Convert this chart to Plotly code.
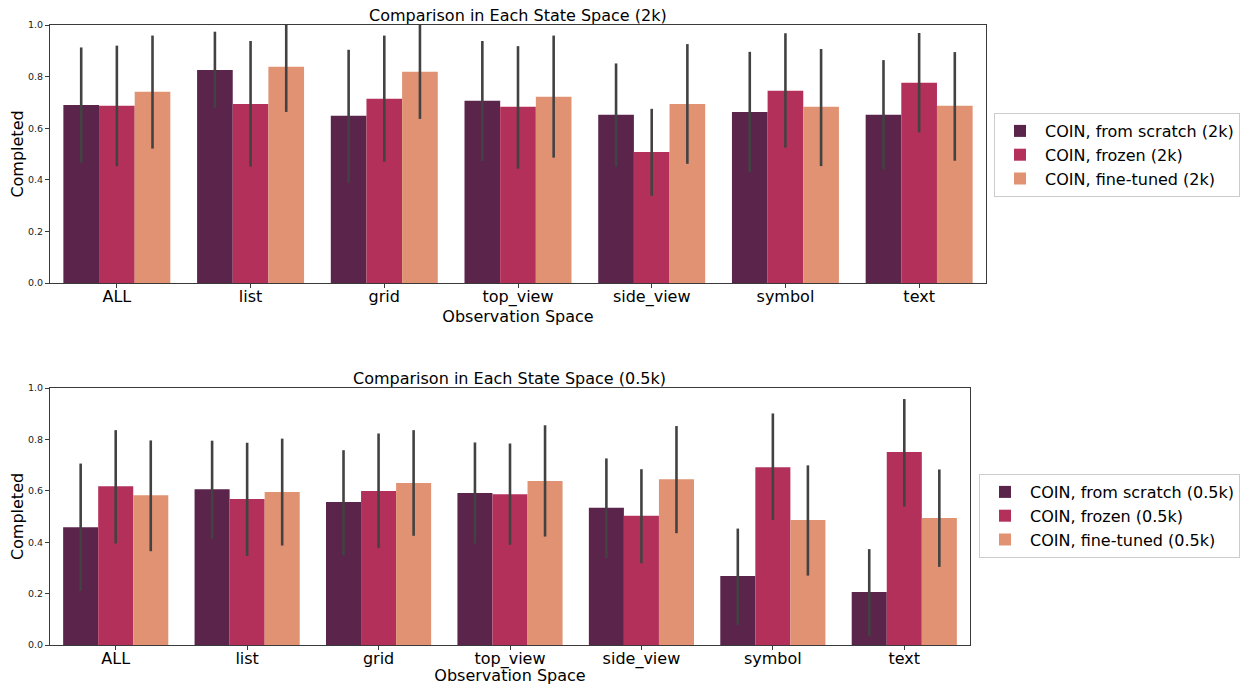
import plotly.graph_objects as go

categories = ["ALL", "list", "grid", "top_view", "side_view", "symbol", "text"]

# Top panel (2k)
scratch_2k = [0.690, 0.826, 0.648, 0.706, 0.652, 0.663, 0.652]
scratch_2k_lo = [0.466, 0.679, 0.389, 0.473, 0.451, 0.430, 0.439]
scratch_2k_hi = [0.913, 0.974, 0.904, 0.938, 0.851, 0.896, 0.864]
frozen_2k = [0.687, 0.694, 0.714, 0.683, 0.508, 0.745, 0.776]
frozen_2k_lo = [0.453, 0.451, 0.470, 0.443, 0.338, 0.525, 0.584]
frozen_2k_hi = [0.920, 0.938, 0.959, 0.918, 0.675, 0.968, 0.969]
fine_2k = [0.741, 0.838, 0.819, 0.722, 0.694, 0.683, 0.687]
fine_2k_lo = [0.521, 0.663, 0.636, 0.486, 0.462, 0.453, 0.474]
fine_2k_hi = [0.959, 1.020, 1.010, 0.959, 0.926, 0.907, 0.895]

# Bottom panel (0.5k)
scratch_05k = [0.458, 0.606, 0.556, 0.591, 0.534, 0.268, 0.206]
scratch_05k_lo = [0.210, 0.413, 0.349, 0.394, 0.338, 0.078, 0.034]
scratch_05k_hi = [0.706, 0.795, 0.758, 0.788, 0.726, 0.453, 0.373]
frozen_05k = [0.618, 0.568, 0.599, 0.587, 0.503, 0.692, 0.751]
frozen_05k_lo = [0.395, 0.347, 0.377, 0.390, 0.318, 0.486, 0.539]
frozen_05k_hi = [0.836, 0.787, 0.823, 0.784, 0.684, 0.901, 0.957]
fine_05k = [0.583, 0.595, 0.630, 0.638, 0.645, 0.486, 0.494]
fine_05k_lo = [0.365, 0.387, 0.425, 0.422, 0.435, 0.270, 0.304]
fine_05k_hi = [0.796, 0.803, 0.836, 0.855, 0.852, 0.699, 0.683]

colors = ["#5a244b", "#b3305a", "#e09272"]
names_2k = ["COIN, from scratch (2k)", "COIN, frozen (2k)", "COIN, fine-tuned (2k)"]
names_05k = ["COIN, from scratch (0.5k)", "COIN, frozen (0.5k)", "COIN, fine-tuned (0.5k)"]

W, H = 1243, 685
OFF = 0  # body margin removed below via post_script
FONT = "DejaVu Sans"

fig = go.Figure()

def add_series(vals, lo, hi, name, color, xa, ya, legend):
    fig.add_trace(go.Bar(
        x=categories, y=vals, name=name, marker=dict(color=color, line=dict(width=0)),
        error_y=dict(type="data", symmetric=False,
                     array=[h - v for h, v in zip(hi, vals)],
                     arrayminus=[v - l for v, l in zip(vals, lo)],
                     color="#424242", thickness=2.6, width=0),
        xaxis=xa, yaxis=ya, legend=legend,
    ))

for v, lo, hi, n, c in zip([scratch_2k, frozen_2k, fine_2k],
                           [scratch_2k_lo, frozen_2k_lo, fine_2k_lo],
                           [scratch_2k_hi, frozen_2k_hi, fine_2k_hi], names_2k, colors):
    add_series(v, lo, hi, n, c, "x", "y", "legend")

for v, lo, hi, n, c in zip([scratch_05k, frozen_05k, fine_05k],
                           [scratch_05k_lo, frozen_05k_lo, fine_05k_lo],
                           [scratch_05k_hi, frozen_05k_hi, fine_05k_hi], names_05k, colors):
    add_series(v, lo, hi, n, c, "x2", "y2", "legend2")

axis_common = dict(showline=True, mirror=True, linecolor="#3a3a3a", linewidth=1,
                   ticks="outside", ticklen=4, tickcolor="#3a3a3a", showgrid=False,
                   zeroline=False, automargin=False)

xcommon = dict(axis_common, type="category", range=[-0.5, 6.5],
               tickfont=dict(family=FONT, size=16, color="black"),
               ticklabelstandoff=-5,
               title=dict(text="Observation Space", font=dict(family=FONT, size=16, color="black"),
                          standoff=0))
ycommon = dict(axis_common, range=[0, 1], dtick=0.2, tick0=0, tickformat=".1f",
               tickfont=dict(family=FONT, size=9.5, color="#222"),
               title=dict(text="Completed", font=dict(family=FONT, size=16, color="black"),
                          standoff=0))

def px_x(p):
    return (p - OFF) / W

def px_y(p):
    return 1 - (p - OFF) / H

legend_common = dict(font=dict(family=FONT, size=16, color="black"),
                     bordercolor="#cccccc", borderwidth=1, bgcolor="white",
                     xanchor="left", yanchor="top", tracegroupgap=0, itemwidth=40)

fig.update_layout(
    width=W, height=H,
    margin=dict(l=0, r=0, t=0, b=0, autoexpand=False),
    paper_bgcolor="white", plot_bgcolor="white",
    barmode="group", bargap=0.2, bargroupgap=0,
    font=dict(family=FONT),
    xaxis=dict(xcommon, domain=[px_x(50), px_x(986)], anchor="y"),
    yaxis=dict(ycommon, domain=[px_y(283), px_y(25)], anchor="x"),
    xaxis2=dict(xcommon, domain=[px_x(50), px_x(970)], anchor="y2"),
    yaxis2=dict(ycommon, domain=[px_y(645), px_y(388)], anchor="x2"),
    legend=dict(legend_common, x=px_x(994), y=px_y(113)),
    legend2=dict(legend_common, x=px_x(979), y=px_y(474)),
    showlegend=True,
    annotations=[
        dict(text="Comparison in Each State Space (2k)", x=(px_x(50) + px_x(986)) / 2,
             y=px_y(26), xref="paper", yref="paper", xanchor="center", yanchor="bottom",
             borderpad=0, showarrow=False, font=dict(family=FONT, size=16, color="black")),
        dict(text="Comparison in Each State Space (0.5k)", x=(px_x(50) + px_x(970)) / 2,
             y=px_y(389), xref="paper", yref="paper", xanchor="center", yanchor="bottom",
             borderpad=0, showarrow=False, font=dict(family=FONT, size=16, color="black")),
    ],
)

fig.write_html("out.html", config={"displayModeBar": False},
               post_script="document.body.style.margin='0';document.body.style.padding='0';")
